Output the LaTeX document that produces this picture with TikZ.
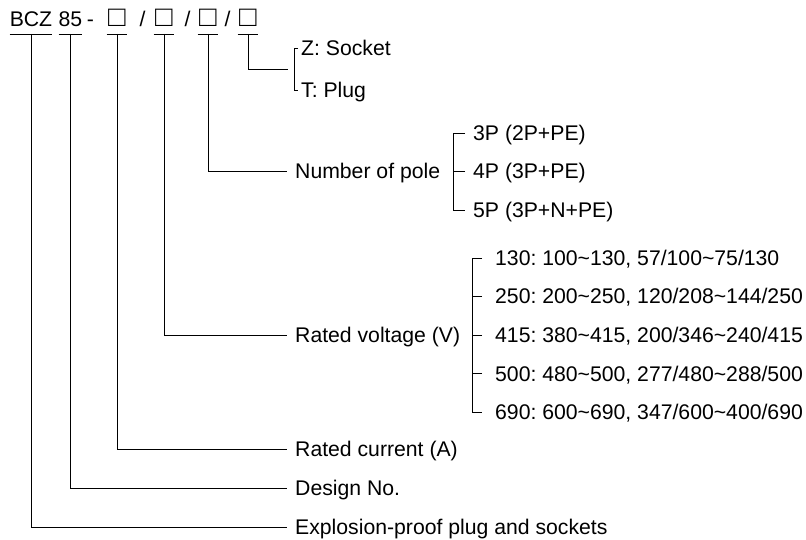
\documentclass[tikz,border=0pt]{standalone}
\usepackage{fontspec}
\setmainfont{Liberation Sans}
\frenchspacing

\begin{document}
\begin{tikzpicture}[
  x=1bp,y=-1bp,
  every node/.style={font=\fontsize{21.2bp}{25bp}\selectfont},
  code/.style={inner sep=0pt,anchor=base},
  sq/.style={code,inner xsep=1.5bp,font=\fontsize{29bp}{30bp}\selectfont},
  lbl/.style={anchor=west,inner xsep=8bp,inner ysep=0pt,text height=15bp,text depth=0pt},
  item/.style={anchor=west,inner sep=0pt,text height=15bp,text depth=0pt},
  ln/.style={line width=0.8bp}
]
  \useasboundingbox (0,0) rectangle (806,540);

  \node[code] (bcz) at (31,27) {BCZ};
  \node[code] (dn) at (70.5,27) {85};
  \node[code] (dash) at (90.5,27) {-};
  \node[sq] (ra) at (117,27) {□};
  \node[code] (sa) at (142.5,27) {/};
  \node[sq] (rb) at (164,27) {□};
  \node[code] (sb) at (187.5,27) {/};
  \node[sq] (rc) at (208,27) {□};
  \node[code] (sc) at (227.5,27) {/};
  \node[sq] (rd) at (248,27) {□};
  \foreach \n in {bcz,dn,ra,rb,rc,rd}
    \draw[ln] ([yshift=-7bp]\n.base west) -- ([yshift=-7bp]\n.base east);

  \node[lbl] (expl) at (287,527) {Explosion-proof plug and sockets};
  \node[lbl] (design) at (287,488) {Design No.};
  \node[lbl] (current) at (287,449) {Rated current (A)};
  \node[lbl] (volt) at (287,335) {Rated voltage (V)};
  \node[lbl] (pole) at (287,171) {Number of pole};
  \coordinate (kind) at (288,69);

  \draw[ln] ([yshift=-7bp]bcz.base) |- (expl.west);
  \draw[ln] ([yshift=-7bp]dn.base) |- (design.west);
  \draw[ln] ([yshift=-7bp]ra.base) |- (current.west);
  \draw[ln] ([yshift=-7bp]rb.base) |- (volt.west);
  \draw[ln] ([yshift=-7bp]rc.base) |- (pole.west);
  \draw[ln] ([yshift=-7bp]rd.base) |- (kind);

  \node[item] (zs) at (301,48) {Z: Socket};
  \node[item] (tp) at (301,90) {T: Plug};
  \draw[ln] ([xshift=-3bp]zs.west) -- ++(-4,0) |- ([xshift=-3bp]tp.west);

  \foreach \t [count=\i] in {{3P (2P+PE)},{4P (3P+PE)},{5P (3P+N+PE)}}
    \node[item] (p\i) at (473,{133+38.5*(\i-1)}) {\t};
  \draw[ln] ([xshift=-8bp]p1.west) -- ++(-12,0) |- ([xshift=-8bp]p3.west);
  \draw[ln] ([xshift=-8bp]p2.west) -- ++(-12,0);

  \foreach \t [count=\i] in {
      {130: 100\textasciitilde130, 57/100\textasciitilde75/130},
      {250: 200\textasciitilde250, 120/208\textasciitilde144/250},
      {415: 380\textasciitilde415, 200/346\textasciitilde240/415},
      {500: 480\textasciitilde500, 277/480\textasciitilde288/500},
      {690: 600\textasciitilde690, 347/600\textasciitilde400/690}}
    \node[item] (v\i) at (495,{258+38.5*(\i-1)}) {\t};
  \draw[ln] ([xshift=-13bp]v1.west) -- ++(-10,0) |- ([xshift=-13bp]v5.west);
  \foreach \i in {2,3,4}
    \draw[ln] ([xshift=-13bp]v\i.west) -- ++(-10,0);
\end{tikzpicture}
\end{document}
